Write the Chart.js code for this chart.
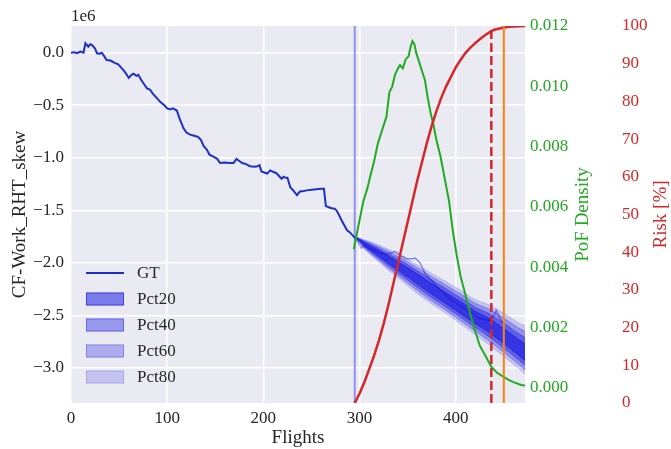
<!DOCTYPE html>
<html>
<head>
<meta charset="utf-8">
<script src="https://cdn.jsdelivr.net/npm/chart.js@4.4.1/dist/chart.umd.min.js"></script>
<style>
  html, body { margin: 0; padding: 0; background: #fff; }
  #wrap { width: 671px; height: 449px; position: relative; }
</style>
</head>
<body>
<div id="wrap"><canvas id="chart"></canvas></div>
<script>
// ground truth trajectory [flight, value in 1e6], observed part
const gtPoints = [
  [0,0.0],[3,0.005],[6,-0.005],[10,0.01],[13,0.0],[15,0.09],[18,0.057],[20,0.08],[22,0.073],[25,0.04],
  [27,-0.006],[30,-0.01],[32,0.0],[35,-0.04],[37,-0.07],[41,-0.075],[46,-0.10],[49,-0.11],[51,-0.13],[55,-0.17],
  [58,-0.21],[60,-0.24],[63,-0.21],[65,-0.20],[68,-0.22],[70,-0.21],[73,-0.26],[76,-0.30],[79,-0.34],[82,-0.35],
  [85,-0.39],[89,-0.43],[93,-0.47],[97,-0.50],[100,-0.53],[103,-0.54],[106,-0.53],[110,-0.55],[113,-0.63],[117,-0.72],
  [120,-0.76],[124,-0.78],[128,-0.79],[132,-0.80],[135,-0.83],[138,-0.89],[141,-0.92],[144,-0.97],[148,-0.99],[152,-1.01],
  [155,-1.05],[160,-1.045],[165,-1.05],[169,-1.05],[172,-1.01],[175,-1.03],[178,-1.05],[182,-1.06],[186,-1.08],[191,-1.085],
  [194,-1.08],[196,-1.07],[198,-1.13],[201,-1.14],[204,-1.15],[207,-1.12],[209,-1.13],[212,-1.14],[214,-1.15],[217,-1.18],
  [219,-1.20],[221,-1.18],[223,-1.19],[225,-1.19],[228,-1.28],[231,-1.31],[235,-1.355],[238,-1.32],[242,-1.315],[245,-1.31],
  [250,-1.305],[255,-1.30],[260,-1.295],[263,-1.295],[265,-1.46],[268,-1.47],[271,-1.48],[274,-1.485],[276,-1.50],[279,-1.55],
  [281,-1.59],[284,-1.64],[287,-1.69],[290,-1.71],[294,-1.75],[297,-1.78]
];
// ground truth after the prediction start, seen through the fan
const gtFuturePoints = [
  [297,-1.78],[302,-1.86],[306,-1.83],[312,-1.87],[320,-1.90],[328,-1.92],[334,-1.90],[337,-1.89],[343,-1.93],
  [349,-1.96],[355,-1.96],[358,-1.955],[363,-2.0],[368,-2.10],[371,-2.13],[378,-2.20],[385,-2.27],[395,-2.35],
  [405,-2.41],[415,-2.47],[425,-2.53],[435,-2.55],[440,-2.50],[442,-2.45],[446,-2.53],[450,-2.58]
];

// prediction fan (percentile bands)
const fanFlights = [295, 305, 315, 330, 345, 360, 375, 390, 405, 420, 435, 450, 465, 472];
const p80Hi = [-1.75, -1.78, -1.81, -1.87, -1.94, -2.02, -2.10, -2.18, -2.26, -2.35, -2.40, -2.48, -2.57, -2.60];
const p80Lo = [-1.75, -1.87, -1.95, -2.07, -2.18, -2.29, -2.39, -2.48, -2.58, -2.68, -2.78, -2.89, -3.00, -3.06];
const p60Hi = [-1.75, -1.788, -1.824, -1.89, -1.964, -2.046, -2.13, -2.212, -2.294, -2.384, -2.44, -2.524, -2.618, -2.652];
const p60Lo = [-1.75, -1.86, -1.936, -2.05, -2.156, -2.262, -2.362, -2.452, -2.55, -2.648, -2.744, -2.852, -2.962, -3.02];
const p40Hi = [-1.75, -1.797, -1.839, -1.912, -1.99, -2.075, -2.163, -2.247, -2.331, -2.421, -2.484, -2.572, -2.671, -2.709];
const p40Lo = [-1.75, -1.849, -1.921, -2.028, -2.13, -2.231, -2.331, -2.421, -2.517, -2.613, -2.704, -2.81, -2.92, -2.976];
const p20Hi = [-1.75, -1.806, -1.855, -1.935, -2.018, -2.104, -2.197, -2.284, -2.37, -2.46, -2.53, -2.623, -2.726, -2.769];
const p20Lo = [-1.75, -1.838, -1.905, -2.005, -2.102, -2.199, -2.299, -2.389, -2.483, -2.576, -2.663, -2.767, -2.877, -2.93];

// probability of failure density [flight, density]
const pofPoints = [
  [294,0.0046],[299,0.0054],[304,0.0062],[308,0.0066],[311,0.0070],[315,0.0075],[319,0.0081],[323,0.0085],
  [328,0.0090],[331,0.0098],[334,0.0100],[337,0.0104],[340,0.0106],[342,0.0107],[345,0.0106],[348,0.0109],
  [351,0.0110],[353,0.0113],[355,0.0115],[357,0.0114],[359,0.0111],[361,0.0109],[364,0.0106],[368,0.0102],
  [371,0.0096],[374,0.0091],[377,0.0087],[380,0.0082],[384,0.0077],[387,0.0072],[390,0.0067],[393,0.0062],
  [397,0.0052],[401,0.0044],[405,0.0037],[410,0.0031],[414,0.0026],[418,0.0021],[425,0.0014],[432,0.0010],
  [437,0.0007],[443,0.0005],[449,0.00038],[455,0.00027],[460,0.00019],[468,0.0001],[472,0.00008]
];

// cumulative risk [flight, %]
const riskPoints = [
  [295,0],[300,2.5],[305,5.5],[310,9],[315,12.5],[320,16.5],[325,21],[330,26],[335,31.5],[340,37],
  [345,42.5],[350,48],[355,53.5],[360,59],[365,64],[370,69],[375,73.5],[380,77.5],[385,81],[390,84],
  [395,86.5],[400,89],[405,91],[410,92.8],[415,94.2],[420,95.4],[425,96.5],[430,97.5],[435,98.3],[440,99],
  [450,99.6],[460,99.9],[472,100]
];

const startFlight = 295;
const alarmFlight = 437;
const eolFlight = 450;

const xTicks = [0, 100, 200, 300, 400];
const yTicks = [-3.0, -2.5, -2.0, -1.5, -1.0, -0.5, 0.0];
const pofTicks = [0, 0.002, 0.004, 0.006, 0.008, 0.010, 0.012];
const riskTicks = [0, 10, 20, 30, 40, 50, 60, 70, 80, 90, 100];

const FONT = '"Liberation Serif", "Times New Roman", serif';
const TXT = '#262626';
const GT_BLUE = '#1c30c8';
const GREEN = '#22aa22';
const RED = '#d62728';
const ORANGE = '#ff7f0e';
const fan = a => `rgba(10,10,225,${a})`;

const pairs = arr => arr.map(p => ({x: p[0], y: p[1]}));
const band = ys => fanFlights.map((x, i) => ({x, y: ys[i]}));
const vline = x => [{x, y: 0}, {x, y: 100}];

const bands = [
  {label: 'Pct80', hi: p80Hi, lo: p80Lo, a: 0.17, order: 19},
  {label: 'Pct60', hi: p60Hi, lo: p60Lo, a: 0.27, order: 18},
  {label: 'Pct40', hi: p40Hi, lo: p40Lo, a: 0.37, order: 17},
  {label: 'Pct20', hi: p20Hi, lo: p20Lo, a: 0.5, order: 16}
];

const datasets = [
  {label: 'GT', data: pairs(gtPoints), yAxisID: 'y', borderColor: GT_BLUE, borderWidth: 2, fill: false, order: 20},
  {label: 'GT_future', data: pairs(gtFuturePoints), yAxisID: 'y', borderColor: 'rgba(60,60,215,0.55)', borderWidth: 1.5, fill: false, order: 21}
];
bands.forEach(b => {
  datasets.push({
    label: b.label, data: band(b.hi), yAxisID: 'y',
    borderColor: fan(b.a), borderWidth: 1, backgroundColor: fan(b.a), fill: '+1', order: b.order
  });
  datasets.push({
    label: b.label + '_lo', data: band(b.lo), yAxisID: 'y',
    borderColor: fan(b.a), borderWidth: 1, fill: false, order: b.order
  });
});
datasets.push(
  {label: 'start', data: vline(startFlight), yAxisID: 'risk', borderColor: 'rgba(70,70,235,0.55)', borderWidth: 2, fill: false, order: 15},
  {label: 'PoF', data: pairs(pofPoints), yAxisID: 'pof', borderColor: GREEN, borderWidth: 2, fill: false, order: 5},
  {label: 'Risk', data: pairs(riskPoints), yAxisID: 'risk', borderColor: RED, borderWidth: 2.5, fill: false, order: 4},
  {label: 'alarm', data: vline(alarmFlight), yAxisID: 'risk', borderColor: RED, borderWidth: 2.5, borderDash: [9, 4], fill: false, order: 3},
  {label: 'eol', data: vline(eolFlight), yAxisID: 'risk', borderColor: ORANGE, borderWidth: 2, fill: false, order: 2}
);

const setTicks = vals => axis => { axis.ticks = vals.map(v => ({value: v})); };

// grey plot background, extra labels and the in-plot legend
const decor = {
  id: 'decor',
  beforeDraw(chart) {
    const {ctx, chartArea: a} = chart;
    ctx.save();
    ctx.fillStyle = '#eaeaf2';
    ctx.fillRect(a.left, a.top, a.right - a.left, a.bottom - a.top);
    ctx.restore();
  },
  afterDraw(chart) {
    const {ctx, chartArea: a, scales} = chart;
    const midY = (a.top + a.bottom) / 2;
    ctx.save();
    ctx.font = '17px ' + FONT;
    ctx.fillStyle = TXT;
    ctx.textBaseline = 'middle';
    ctx.textAlign = 'left';
    ctx.fillText('1e6', a.left, a.top - 9);

    // right axis titles, read bottom to top
    ctx.font = '19px ' + FONT;
    ctx.textAlign = 'center';
    [[scales.pof.left + 58, 'PoF Density', GREEN], [scales.risk.left + 44, 'Risk [%]', RED]].forEach(t => {
      ctx.save();
      ctx.translate(t[0], midY);
      ctx.rotate(-Math.PI / 2);
      ctx.fillStyle = t[2];
      ctx.fillText(t[1], 0, 0);
      ctx.restore();
    });

    // legend
    const lx = a.left + 15, tx = a.left + 66;
    let ly = a.top + 247;
    ctx.font = '17px ' + FONT;
    ctx.textAlign = 'left';
    ctx.strokeStyle = GT_BLUE;
    ctx.lineWidth = 2;
    ctx.beginPath();
    ctx.moveTo(lx, ly);
    ctx.lineTo(lx + 38, ly);
    ctx.stroke();
    ctx.fillStyle = TXT;
    ctx.fillText('GT', tx, ly + 1);
    bands.slice().reverse().forEach(b => {
      ly += 26;
      ctx.fillStyle = fan(b.a);
      ctx.fillRect(lx, ly - 6.5, 38, 13);
      ctx.strokeStyle = fan(b.a);
      ctx.lineWidth = 1;
      ctx.strokeRect(lx + 0.5, ly - 6, 37, 12);
      ctx.fillStyle = TXT;
      ctx.fillText(b.label, tx, ly + 1);
    });
    ctx.restore();
  }
};

Chart.defaults.font.family = FONT;
Chart.defaults.font.size = 17;
Chart.defaults.color = TXT;

new Chart(document.getElementById('chart'), {
  type: 'line',
  data: {datasets},
  plugins: [decor],
  options: {
    responsive: true,
    maintainAspectRatio: false,
    animation: false,
    layout: {padding: {top: 26, left: 0, right: 0, bottom: 0}},
    elements: {point: {radius: 0}, line: {tension: 0}},
    plugins: {legend: {display: false}, tooltip: {enabled: false}},
    scales: {
      x: {
        type: 'linear', min: 0, max: 472,
        afterBuildTicks: setTicks(xTicks),
        afterFit: s => { s.height = 46; },
        grid: {color: '#ffffff', lineWidth: 1.5, drawTicks: false},
        border: {display: false},
        ticks: {padding: 5, autoSkip: false, maxRotation: 0},
        title: {display: true, text: 'Flights', font: {size: 19, lineHeight: 1}, padding: {top: 0, bottom: 1.5}}
      },
      y: {
        position: 'left', min: -3.333, max: 0.254,
        afterBuildTicks: setTicks(yTicks),
        afterFit: s => { s.width = 71; },
        grid: {color: '#ffffff', lineWidth: 1.5, drawTicks: false},
        border: {display: false},
        ticks: {padding: 7, autoSkip: false, callback: v => v.toFixed(1).replace('-', '\u2212')},
        title: {display: true, text: 'CF-Work_RHT_skew', font: {size: 19, lineHeight: 1}, padding: {top: 10.5, bottom: 0}}
      },
      pof: {
        position: 'right', weight: 0, min: -0.0005, max: 0.012,
        afterBuildTicks: setTicks(pofTicks),
        afterFit: s => { s.width = 92; },
        grid: {display: false, drawTicks: false},
        border: {display: false},
        ticks: {padding: 5, autoSkip: false, color: GREEN, callback: v => v.toFixed(3)}
      },
      risk: {
        position: 'right', weight: 1, min: 0, max: 100,
        afterBuildTicks: setTicks(riskTicks),
        afterFit: s => { s.width = 54; },
        grid: {display: false, drawTicks: false},
        border: {display: false},
        ticks: {padding: 5, autoSkip: false, color: RED, callback: v => String(v)}
      }
    }
  }
});
</script>
</body>
</html>
